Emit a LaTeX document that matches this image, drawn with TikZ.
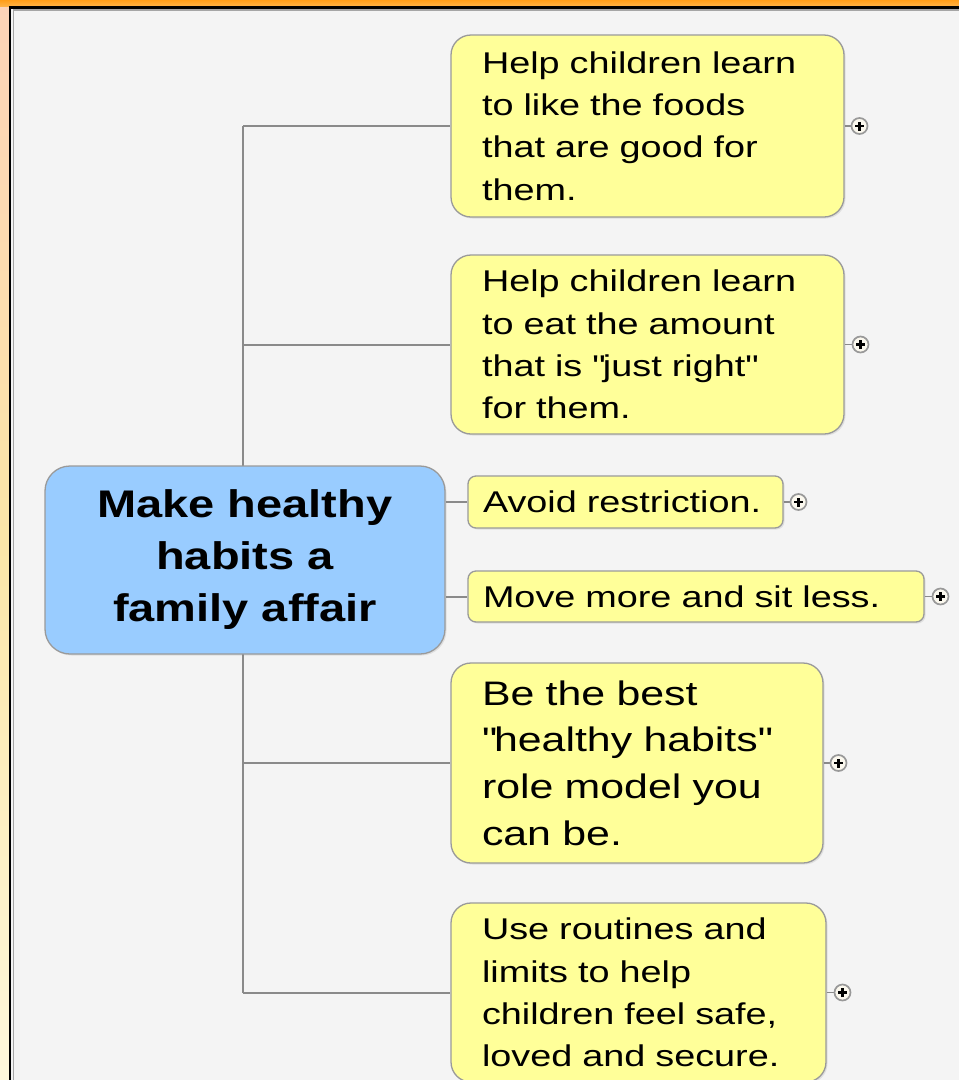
\documentclass[tikz,border=0pt]{standalone}
\usepackage{fontspec}
\setmainfont{Liberation Sans}[FakeStretch=1.26]
\newfontfamily\titlefont{Liberation Sans}[FakeStretch=1.22]
\usetikzlibrary{shadows,positioning}
\definecolor{panel}{HTML}{F4F4F4}
\definecolor{nodeyellow}{HTML}{FFFF99}
\definecolor{nodeblue}{HTML}{99CCFF}
\definecolor{edgegray}{HTML}{8A8A8A}
\definecolor{boxborder}{HTML}{9A9A9A}
\definecolor{bandorange}{HTML}{FF9E1A}
\definecolor{bandlight}{HTML}{FFB347}
\definecolor{stripA}{HTML}{FDD3B8}
\definecolor{stripB}{HTML}{FBE6A8}
\definecolor{stripC}{HTML}{FEF8DC}
\definecolor{iconfill}{HTML}{FBF8EE}
\pgfdeclarelayer{background}
\pgfsetlayers{background,main}
\begin{document}
\begin{tikzpicture}[x=1pt,y=-1pt,
  conn/.style={draw=edgegray,line width=2pt},
  stub/.style={draw=edgegray,line width=1.2pt},
  shadowed/.style={drop shadow={opacity=0.18,shadow xshift=1.5pt,shadow yshift=-1.5pt}},
  bigbox/.style={shadowed,draw=boxborder,line width=1.3pt,fill=nodeyellow,
    rounded corners=20pt,inner xsep=31pt,inner ysep=0pt,align=left,
    font=\fontsize{30}{42.3}\selectfont},
  smallbox/.style={shadowed,draw=boxborder,line width=1.3pt,fill=nodeyellow,
    rounded corners=8pt,inner xsep=15pt,inner ysep=0pt,align=left,
    font=\fontsize{30}{36}\selectfont},
  centralbox/.style={shadowed,draw=boxborder,line width=1.3pt,fill=nodeblue,
    rounded corners=25pt,inner sep=0pt,align=center,
    minimum width=400pt,minimum height=188pt,
    font=\titlefont\bfseries\fontsize{38.5}{52}\selectfont},
  plusicon/.style={circle,draw=gray!80,line width=1.7pt,fill=iconfill,
    minimum size=16pt,inner sep=0pt,
    path picture={
      \draw[black,line width=2.6pt] ([xshift=-4.5pt]path picture bounding box.center) -- ([xshift=4.5pt]path picture bounding box.center);
      \draw[black,line width=2.6pt] ([yshift=-4.5pt]path picture bounding box.center) -- ([yshift=4.5pt]path picture bounding box.center);}}
]
\useasboundingbox (0,0) rectangle (959,1080);

% frame and panel
\begin{pgfonlayer}{background}
  \shade[top color=stripA,bottom color=stripC,middle color=stripB] (0,0) rectangle (10,1080);
  \shade[top color=bandorange,bottom color=bandlight] (0,0) rectangle (959,6.5);
  \fill[panel] (10,7) rectangle (959,1080);
  \draw[black,line width=2.6pt] (10,1080) -- (10,7.3) -- (959,7.3);
  \draw[gray!70,line width=1.4pt] (13.5,1080) -- (13.5,10) -- (959,10);
\end{pgfonlayer}

% nodes
\node[centralbox] (c) at (245,560) {Make healthy\\habits a\\family affair};

\node[bigbox,minimum width=393pt,minimum height=182pt,text width=331pt] (b1) at (647.5,126)
  {Help children learn\\to like the foods\\that are good for\\them.};
\node[bigbox,minimum width=393pt,minimum height=179pt,text width=331pt] (b2) at (647.5,344.5)
  {Help children learn\\to eat the amount\\that is \textquotedbl just right\textquotedbl\\for them.};
\node[smallbox,minimum width=315pt,minimum height=52pt,text width=285pt] (av) at (625.5,502)
  {Avoid restriction.};
\node[smallbox,minimum width=456pt,minimum height=51pt,text width=426pt] (mv) at (696,596.5)
  {Move more and sit less.};
\node[bigbox,minimum width=372pt,minimum height=200pt,text width=310pt,
  font=\fontsize{34}{46.7}\selectfont] (b5) at (637,763)
  {Be the best\\\textquotedbl healthy habits\textquotedbl\\role model you\\can be.};
\node[bigbox,minimum width=375pt,minimum height=179pt,text width=313pt] (b6) at (638.5,992.5)
  {Use routines and\\limits to help\\children feel safe,\\loved and secure.};

% expand icons
\node[plusicon,right=6pt of b1.east] (p1) {};
\node[plusicon,right=7pt of b2.east] (p2) {};
\node[plusicon,right=6pt of av.east] (p3) {};
\node[plusicon,right=7pt of mv.east] (p4) {};
\node[plusicon,right=6pt of b5.east] (p5) {};
\node[plusicon,right=7pt of b6.east] (p6) {};

% connectors
\coordinate (tt) at (243,0 |- b1.west);
\coordinate (tb) at (243,0 |- b6.west);
\begin{pgfonlayer}{background}
  \draw[conn] (tt) -- (tb);
  \draw[conn] (tt) -- (b1.west);
  \draw[conn] (243,0 |- b2.west) -- (b2.west);
  \draw[conn] (243,0 |- b5.west) -- (b5.west);
  \draw[conn] (tb) -- (b6.west);
  \draw[conn] (c.east |- av.west) -- (av.west);
  \draw[conn] (c.east |- mv.west) -- (mv.west);
  \draw[stub] (b1.east) -- (p1.west);
  \draw[stub] (b2.east) -- (p2.west);
  \draw[stub] (av.east) -- (p3.west);
  \draw[stub] (mv.east) -- (p4.west);
  \draw[stub] (b5.east) -- (p5.west);
  \draw[stub] (b6.east) -- (p6.west);
\end{pgfonlayer}
\end{tikzpicture}
\end{document}
